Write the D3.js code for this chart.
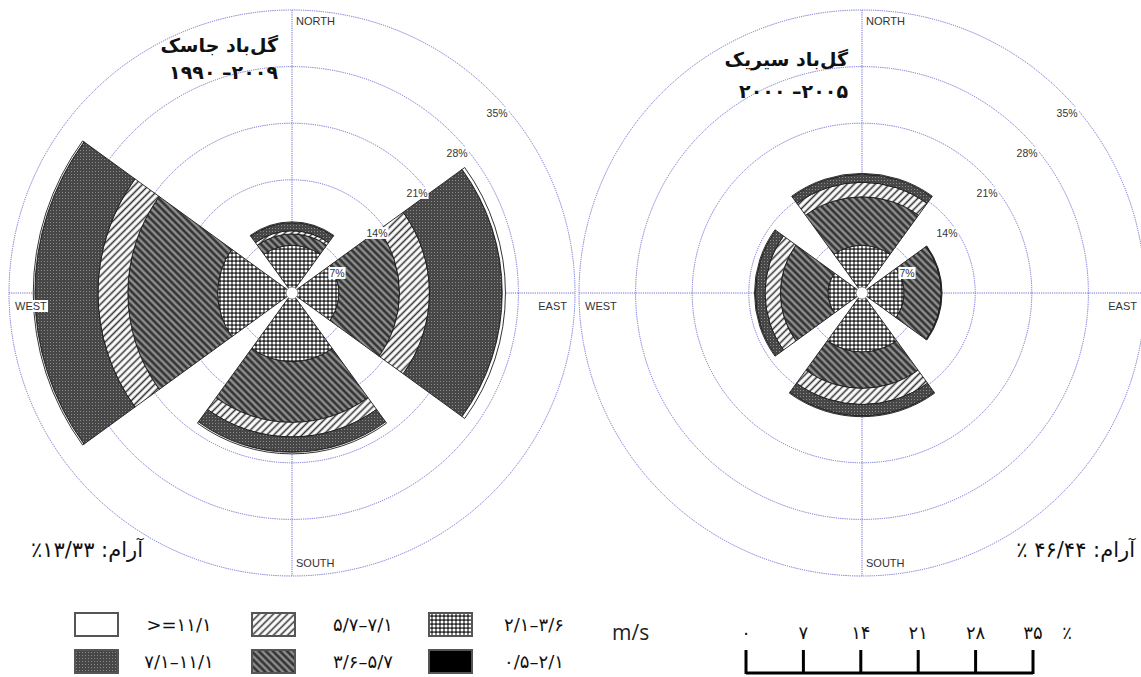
<!DOCTYPE html>
<html>
<head>
<meta charset="utf-8">
<script src="https://cdn.jsdelivr.net/npm/d3@7"></script>
<style>
  body { margin: 0; background: #fff; }
  svg { display: block; }
</style>
</head>
<body>
<div id="chart"></div>
<script>
// direções da rosa (0 = norte, sentido horário)
const directions = ["N", "E", "S", "W"];
const dirAngles = [0, 90, 180, 270];

// classes de velocidade (m/s), de dentro pra fora
const speedClasses = ["0.5-2.1", "2.1-3.6", "3.6-5.7", "5.7-7.1", "7.1-11.1", ">=11.1"];
const speedLabels = ["۰/۵–۲/۱", "۲/۱–۳/۶", "۳/۶–۵/۷", "۵/۷–۷/۱", "۷/۱–۱۱/۱", ">=۱۱/۱"];

// frequência (%) por classe, na ordem N, E, S, W — jask
const jaskC1 = [0, 0, 0, 0];
const jaskC2 = [5.9, 5.8, 8.5, 9.2];
const jaskC3 = [1.4, 7.5, 7.5, 11.1];
const jaskC4 = [0.4, 3.7, 1.8, 3.7];
const jaskC5 = [1.0, 9.0, 1.9, 7.8];
const jaskC6 = [0.1, 0.4, 0.2, 0.2];

// sirik
const sirikC1 = [0, 0, 0, 0];
const sirikC2 = [5.9, 5.2, 7.3, 4.2];
const sirikC3 = [6.0, 4.6, 4.5, 5.9];
const sirikC4 = [1.8, 0, 2.0, 1.9];
const sirikC5 = [1.0, 0.1, 1.4, 1.2];
const sirikC6 = [0.1, 0, 0.1, 0.1];

// textos (já na ordem visual)
const jaskTitle = ["گل\u200cباد جاسک", "۱۹۹۰ –۲۰۰۹"];
const sirikTitle = ["گل\u200cباد سیریک", "۲۰۰۰ –۲۰۰۵"];
const jaskCalm = "٪۱۳/۳۳ :آرام";
const sirikCalm = "٪ ۴۶/۴۴ :آرام";

// anéis de porcentagem
const ringTicks = [7, 14, 21, 28, 35];
const dirNames = ["NORTH", "EAST", "SOUTH", "WEST"];

// barra de escala embaixo
const scaleTicks = [0, 7, 14, 21, 28, 35];
const scaleTickLabels = ["۰", "۷", "۱۴", "۲۱", "۲۸", "۳۵"];

// ordem das caixinhas da legenda (índices das classes)
const legendOrder = [5, 3, 1, 4, 2, 0];

const width = 1141;
const height = 677;
const outerR = 283;
const halfWidth = 36; // graus pra cada lado do centro do setor
const gridColor = "#6d6dd2";
const persianFont = "'DejaVu Sans', sans-serif";
const latinFont = "'Liberation Sans', Arial, sans-serif";

const svg = d3.select("#chart")
  .append("svg")
  .attr("width", width)
  .attr("height", height);

svg.append("rect").attr("width", width).attr("height", height).attr("fill", "#fff");

// padrões de preenchimento de cada classe
const defs = svg.append("defs");

function hatch(id, bg, color, w, size, angle) {
  const p = defs.append("pattern")
    .attr("id", id)
    .attr("patternUnits", "userSpaceOnUse")
    .attr("width", size)
    .attr("height", size)
    .attr("patternTransform", `rotate(${angle})`);
  p.append("rect").attr("width", size).attr("height", size).attr("fill", bg);
  p.append("line")
    .attr("x1", size / 2).attr("y1", -1)
    .attr("x2", size / 2).attr("y2", size + 1)
    .attr("stroke", color)
    .attr("stroke-width", w);
}

hatch("p-light", "#fff", "#333", 1.6, 5, 45);
hatch("p-dark", "#8e8e8e", "#2d2d2d", 2.4, 5, -45);

const pc = defs.append("pattern")
  .attr("id", "p-cross")
  .attr("patternUnits", "userSpaceOnUse")
  .attr("width", 4).attr("height", 4);
pc.append("rect").attr("width", 4).attr("height", 4).attr("fill", "#2b2b2b");
pc.append("circle").attr("cx", 2).attr("cy", 2).attr("r", 1.55).attr("fill", "#fff");

const pg = defs.append("pattern")
  .attr("id", "p-grid")
  .attr("patternUnits", "userSpaceOnUse")
  .attr("width", 3).attr("height", 3);
pg.append("rect").attr("width", 3).attr("height", 3).attr("fill", "#474747");
pg.append("rect").attr("x", 1).attr("y", 1).attr("width", 1).attr("height", 1).attr("fill", "#8a8a8a");

const classFills = ["#000", "url(#p-cross)", "url(#p-dark)", "url(#p-light)", "url(#p-grid)", "#fff"];

const r = d3.scaleLinear().domain([0, 35]).range([0, outerR]);
const rad = (deg) => (deg * Math.PI) / 180;
const arc = d3.arc();

// coloca um retângulo branco atrás do texto (igual ao original)
function boxBehind(textSel, pad) {
  textSel.each(function () {
    const b = this.getBBox();
    d3.select(this.parentNode)
      .insert("rect", () => this)
      .attr("x", b.x - pad)
      .attr("y", b.y)
      .attr("width", b.width + pad * 2)
      .attr("height", b.height)
      .attr("fill", "#fff");
  });
}

function drawRose(cfg) {
  const g = svg.append("g").attr("transform", `translate(${cfg.cx},${cfg.cy})`);

  // grade: círculos e eixos pontilhados
  g.selectAll(".ring")
    .data(ringTicks)
    .enter()
    .append("circle")
    .attr("class", "ring")
    .attr("r", (d) => r(d))
    .attr("fill", "none")
    .attr("stroke", gridColor)
    .attr("stroke-width", 1)
    .attr("stroke-dasharray", "1.2,1");

  g.append("line")
    .attr("x1", -r(35)).attr("x2", r(35)).attr("y1", 0).attr("y2", 0)
    .attr("stroke", gridColor).attr("stroke-dasharray", "1.2,1");
  g.append("line")
    .attr("y1", -r(35)).attr("y2", r(35)).attr("x1", 0).attr("x2", 0)
    .attr("stroke", gridColor).attr("stroke-dasharray", "1.2,1");

  // monta os segmentos empilhados de cada direção
  const segs = [];
  directions.forEach((dir, i) => {
    let acc = 0;
    cfg.classes.forEach((vals, k) => {
      const v = vals[i];
      if (v > 0) segs.push({ dir: i, cls: k, r0: acc, r1: acc + v });
      acc += v;
    });
  });

  g.selectAll(".seg")
    .data(segs)
    .enter()
    .append("path")
    .attr("class", "seg")
    .attr("d", (d) =>
      arc({
        innerRadius: r(d.r0),
        outerRadius: r(d.r1),
        startAngle: rad(dirAngles[d.dir] - halfWidth),
        endAngle: rad(dirAngles[d.dir] + halfWidth),
      })
    )
    .attr("fill", (d) => classFills[d.cls])
    .attr("stroke", "#1c1c1c")
    .attr("stroke-width", 0.9);

  // circulo branco do centro
  g.append("circle").attr("r", 6).attr("fill", "#fff").attr("stroke", "#555").attr("stroke-width", 0.6);

  // rótulos dos anéis
  const ringLabels = g.selectAll(".ring-label")
    .data(ringTicks)
    .enter()
    .append("text")
    .attr("class", "ring-label")
    .attr("x", (d) => r(d) * Math.SQRT1_2 + 5)
    .attr("y", (d) => -r(d) * Math.SQRT1_2 + 24)
    .attr("text-anchor", "middle")
    .attr("font-family", latinFont)
    .attr("font-size", 10.5)
    .attr("fill", "#333")
    .text((d) => d + "%");
  boxBehind(ringLabels, 1);

  // nomes das direções
  const dl = g.append("g");
  dl.append("text").attr("x", 4).attr("y", -r(35) + 15).text(dirNames[0]);
  dl.append("text").attr("x", r(35) - 8).attr("y", 17).attr("text-anchor", "end").text(dirNames[1]);
  dl.append("text").attr("x", 4).attr("y", r(35) - 9).text(dirNames[2]);
  dl.append("text").attr("x", -r(35) + 6).attr("y", 17).text(dirNames[3]);
  dl.selectAll("text")
    .attr("font-family", latinFont)
    .attr("font-size", 11)
    .attr("fill", "#333");
  boxBehind(dl.selectAll("text"), 1);

  // título
  g.append("text")
    .attr("x", -14)
    .attr("y", cfg.titleY[0])
    .attr("text-anchor", "end")
    .attr("font-family", persianFont)
    .attr("font-size", 19)
    .attr("font-weight", "bold")
    .attr("fill", "#111")
    .text(cfg.title[0]);
  g.append("text")
    .attr("x", -14)
    .attr("y", cfg.titleY[1])
    .attr("text-anchor", "end")
    .attr("font-family", persianFont)
    .attr("font-size", 19)
    .attr("font-weight", "bold")
    .attr("letter-spacing", 0.5)
    .attr("fill", "#111")
    .text(cfg.title[1]);

  // texto da calmaria
  g.append("text")
    .attr("x", cfg.calmX)
    .attr("y", 264)
    .attr("text-anchor", "end")
    .attr("font-family", persianFont)
    .attr("font-size", 21)
    .attr("fill", "#111")
    .text(cfg.calm);
}

drawRose({
  cx: 292, cy: 293,
  classes: [jaskC1, jaskC2, jaskC3, jaskC4, jaskC5, jaskC6],
  title: jaskTitle, titleY: [-241, -214],
  calm: jaskCalm, calmX: -149,
});

drawRose({
  cx: 862, cy: 293,
  classes: [sirikC1, sirikC2, sirikC3, sirikC4, sirikC5, sirikC6],
  title: sirikTitle, titleY: [-227, -195],
  calm: sirikCalm, calmX: 273,
});

// legenda das classes
const legendBoxX = [75, 252, 429];
const legendLabelX = [179, 363, 534];
const legendRowY = [613, 650];

const legend = svg.append("g");
legendOrder.forEach((cls, i) => {
  const col = i % 3;
  const row = Math.floor(i / 3);
  legend.append("rect")
    .attr("x", legendBoxX[col])
    .attr("y", legendRowY[row])
    .attr("width", 43)
    .attr("height", 23)
    .attr("fill", classFills[cls])
    .attr("stroke", "#555")
    .attr("stroke-width", 2);
  legend.append("text")
    .attr("x", legendLabelX[col])
    .attr("y", legendRowY[row] + 18)
    .attr("text-anchor", "middle")
    .attr("font-family", persianFont)
    .attr("font-size", 18)
    .attr("letter-spacing", 1.5)
    .attr("fill", "#111")
    .text(speedLabels[cls]);
});

legend.append("text")
  .attr("x", 612)
  .attr("y", 640)
  .attr("font-family", "'Open Sans', sans-serif")
  .attr("font-size", 21)
  .attr("fill", "#222")
  .text("m/s");

// barra de escala em %
const sx = d3.scaleLinear().domain([0, 35]).range([746, 1033]);
const bar = svg.append("g");
bar.append("line")
  .attr("x1", sx(0)).attr("x2", sx(35))
  .attr("y1", 673).attr("y2", 673)
  .attr("stroke", "#000").attr("stroke-width", 3);
bar.selectAll(".tick")
  .data(scaleTicks)
  .enter()
  .append("line")
  .attr("x1", (d) => sx(d)).attr("x2", (d) => sx(d))
  .attr("y1", 650).attr("y2", 674)
  .attr("stroke", "#000").attr("stroke-width", 3);
bar.selectAll(".tick-label")
  .data(scaleTicks)
  .enter()
  .append("text")
  .attr("x", (d) => sx(d))
  .attr("y", 639)
  .attr("text-anchor", "middle")
  .attr("font-family", persianFont)
  .attr("font-size", 18)
  .attr("letter-spacing", 1)
  .attr("fill", "#111")
  .text((d, i) => scaleTickLabels[i]);
bar.append("text")
  .attr("x", sx(35) + 34)
  .attr("y", 639)
  .attr("text-anchor", "middle")
  .attr("font-family", persianFont)
  .attr("font-size", 18)
  .attr("fill", "#111")
  .text("٪");
</script>
</body>
</html>
